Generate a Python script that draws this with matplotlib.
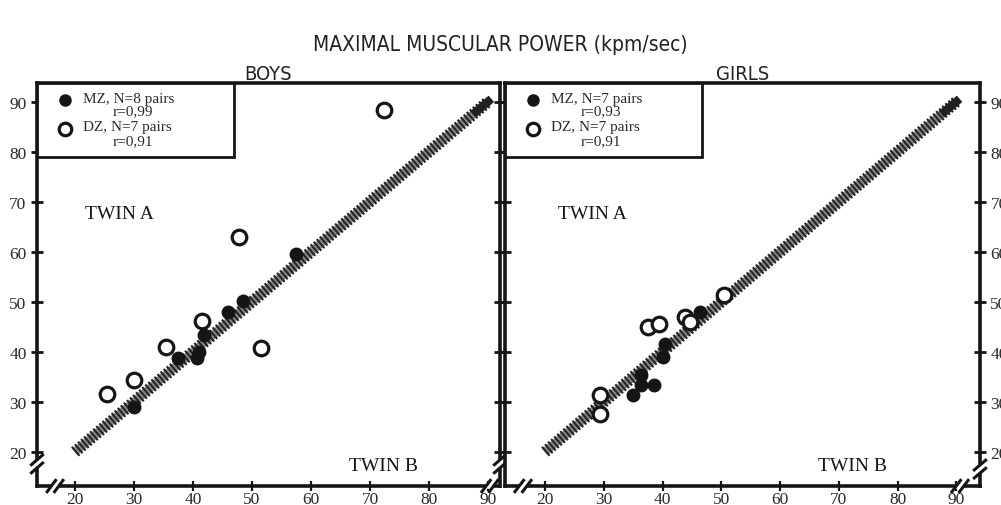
import matplotlib
matplotlib.use("Agg")
import matplotlib.pyplot as plt
from matplotlib.patches import Rectangle

# Twin B (x) / Twin A (y) maximal muscular power, kpm/sec
boys_mz_b = [57.4, 48.5, 46.0, 41.9, 37.5, 40.7, 41.0, 30.0]
boys_mz_a = [59.5, 50.1, 48.0, 43.3, 38.8, 38.8, 40.0, 29.0]
boys_dz_b = [72.4, 47.8, 41.5, 35.4, 51.5, 30.0, 25.4]
boys_dz_a = [88.3, 62.9, 46.1, 40.9, 40.8, 34.4, 31.5]

girls_mz_b = [46.4, 40.4, 40.1, 36.4, 36.4, 38.5, 35.0]
girls_mz_a = [47.9, 41.6, 38.9, 35.3, 33.3, 33.3, 31.3]
girls_dz_b = [37.5, 39.4, 43.8, 44.7, 50.5, 29.4, 29.4]
girls_dz_a = [45.0, 45.5, 47.0, 45.9, 51.3, 31.3, 27.6]

boys_legend = ["MZ, N=8 pairs", "r=0,99", "DZ, N=7 pairs", "r=0,91"]
girls_legend = ["MZ, N=7 pairs", "r=0,93", "DZ, N=7 pairs", "r=0,91"]

ticks = [20, 30, 40, 50, 60, 70, 80, 90]

SERIF = "Liberation Serif"
INK = "#151515"
FIG_W = 1001


def add_break(ax, x, y, horizontal):
    """Two slanted strokes over a white gap on a spine (axes coords)."""
    tr = ax.transAxes
    if horizontal:
        ax.plot([x - 0.008, x + 0.008], [y, y], color="white", lw=4,
                transform=tr, clip_on=False, zorder=6, solid_capstyle="butt")
        for dx in (-0.008, 0.008):
            ax.plot([x + dx - 0.009, x + dx + 0.009], [y - 0.014, y + 0.014],
                    color=INK, lw=2.2, transform=tr, clip_on=False, zorder=7)
    else:
        ax.plot([x, x], [y - 0.01, y + 0.01], color="white", lw=4,
                transform=tr, clip_on=False, zorder=6, solid_capstyle="butt")
        for dy in (-0.01, 0.01):
            ax.plot([x - 0.012, x + 0.012], [y + dy - 0.012, y + dy + 0.012],
                    color=INK, lw=2.2, transform=tr, clip_on=False, zorder=7)


def draw_panel(ax, mz_b, mz_a, dz_b, dz_a, legend_txt, xlim, label_side,
               twin_a_x, twin_b_x):
    ax.set_xlim(*xlim)
    ax.set_ylim(13.2, 93.7)

    # identity line, drawn as a hatched band
    ax.plot([20, 90], [20, 90], color="#8a8a8a", lw=6, zorder=2,
            solid_capstyle="butt")
    ax.plot([20, 90], [20, 90], color="#252525", lw=8.5, zorder=2,
            linestyle=(0, (0.18, 0.16)))
    ax.plot([88, 90], [88, 90], color="#202020", lw=6, zorder=2)

    ax.plot(mz_b, mz_a, "o", ms=9, color=INK, mec=INK, zorder=4)
    ax.plot(dz_b, dz_a, "o", ms=10.5, mfc="white", mec=INK, mew=2.3, zorder=4)

    for s in ax.spines.values():
        s.set_linewidth(2.6)
        s.set_color(INK)

    ax.set_xticks(ticks)
    ax.set_yticks(ticks)
    ax.tick_params(axis="x", direction="inout", length=7, width=1.6,
                   colors=INK, labelsize=12.5, pad=0)
    ax.tick_params(axis="y", direction="inout", length=9, width=2,
                   colors=INK, labelsize=12.5, pad=3, left=True, right=True,
                   labelleft=(label_side == "left"),
                   labelright=(label_side == "right"))
    for lab in ax.get_xticklabels() + ax.get_yticklabels():
        lab.set_family(SERIF)
        lab.set_color("#2a2a2a")

    ax.text(twin_a_x, 0.675, "TWIN A", transform=ax.transAxes, family=SERIF,
            fontsize=14, color=INK, va="center")
    ax.text(twin_b_x, 0.05, "TWIN B", transform=ax.transAxes, family=SERIF,
            fontsize=14, color=INK, va="center")

    # legend box in the upper-left corner
    px = 1 / (ax.get_position().width * FIG_W)
    ax.add_patch(Rectangle((0, 1 - 0.184), 197 * px, 0.184,
                           transform=ax.transAxes, fc="white", ec=INK, lw=2,
                           zorder=5))
    ax.plot([28 * px], [0.959], "o", ms=8, color=INK, transform=ax.transAxes,
            zorder=6, clip_on=False)
    ax.plot([28 * px], [0.886], "o", ms=9, mfc="white", mec=INK, mew=2.3,
            transform=ax.transAxes, zorder=6, clip_on=False)
    rows = [(46 * px, 0.962), (76 * px, 0.932), (46 * px, 0.892), (76 * px, 0.858)]
    for (x, y), txt in zip(rows, legend_txt):
        ax.text(x, y, txt, transform=ax.transAxes, family=SERIF, fontsize=11,
                color="#2a2a2a", va="center", zorder=7)


fig = plt.figure(figsize=(10.01, 5.06), dpi=100)
ax_boys = fig.add_axes([0.037, 0.0375, 0.4625, 0.7965])
ax_girls = fig.add_axes([0.5045, 0.0375, 0.4745, 0.7965])

draw_panel(ax_boys, boys_mz_b, boys_mz_a, boys_dz_b, boys_dz_a,
           boys_legend, (13.6, 92.0), "left", 0.104, 0.674)
draw_panel(ax_girls, girls_mz_b, girls_mz_a, girls_dz_b, girls_dz_a,
           girls_legend, (13.2, 94.0), "right", 0.112, 0.659)

# axis breaks near the origin and at the far ends
add_break(ax_boys, 0.0, 0.055, horizontal=False)
add_break(ax_boys, 0.039, 0.0, horizontal=True)
add_break(ax_boys, 0.978, 0.0, horizontal=True)
add_break(ax_boys, 1.0, 0.055, horizontal=False)
add_break(ax_girls, 0.038, 0.0, horizontal=True)
add_break(ax_girls, 0.958, 0.0, horizontal=True)
add_break(ax_girls, 1.0, 0.042, horizontal=False)

fig.text(0.5, 0.911, "MAXIMAL MUSCULAR POWER (kpm/sec)", ha="center",
         va="center", family="DejaVu Sans", fontstretch="condensed",
         fontsize=15, color="#222222")
ax_boys.set_title("BOYS", family="DejaVu Sans", fontstretch="condensed",
                  fontsize=14.5, color="#222222", pad=2)
ax_girls.set_title("GIRLS", family="DejaVu Sans", fontstretch="condensed",
                   fontsize=14.5, color="#222222", pad=2)

fig.savefig("out.png", dpi=100, facecolor="white")
